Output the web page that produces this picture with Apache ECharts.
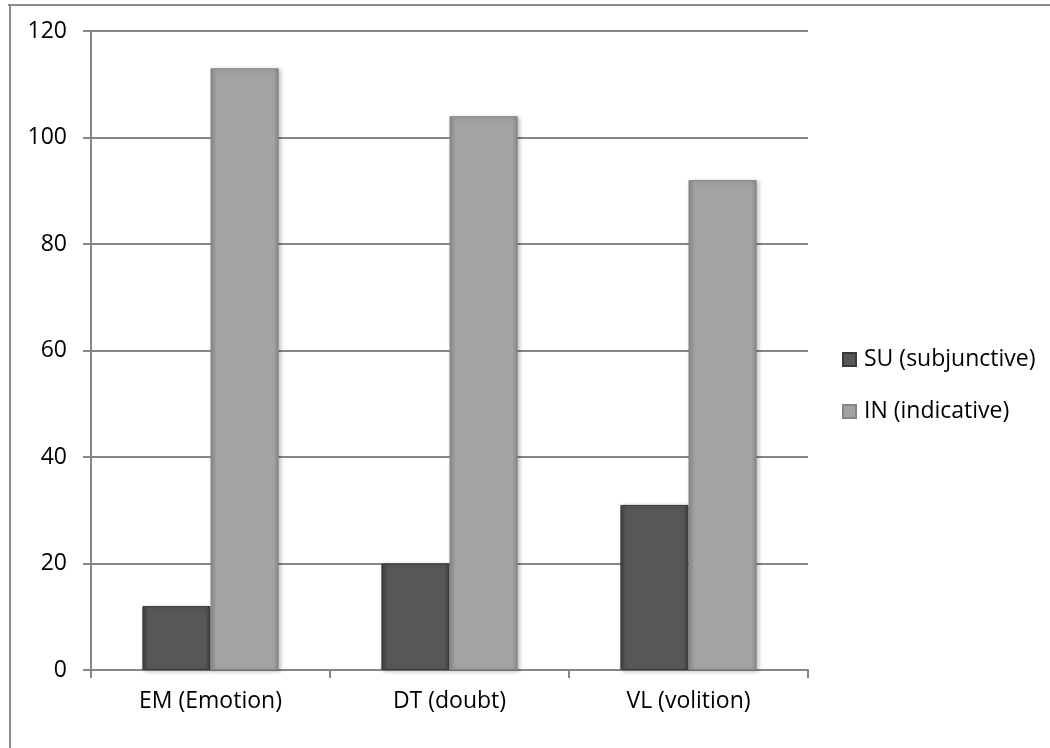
<!DOCTYPE html>
<html>
<head>
<meta charset="utf-8">
<script src="https://cdn.jsdelivr.net/npm/echarts@6/dist/echarts.min.js"></script>
<style>html,body{margin:0;padding:0;background:#fff}#c{width:1050px;height:748px}</style>
</head>
<body>
<div id="c"></div>
<script>
const categories = ['EM (Emotion)', 'DT (doubt)', 'VL (volition)'];
const suValues = [12, 20, 31];
const inValues = [113, 104, 92];
const seriesNames = ['SU (subjunctive)', 'IN (indicative)'];

const font = 'Open Sans';
function grad(edge, mid) {
  return new echarts.graphic.LinearGradient(0, 0, 1, 0, [
    {offset: 0, color: edge}, {offset: 0.08, color: mid},
    {offset: 0.92, color: mid}, {offset: 1, color: edge}
  ]);
}
const chart = echarts.init(document.getElementById('c'));
chart.setOption({
  animation: false,
  backgroundColor: '#fff',
  graphic: [
    {type: 'line', shape: {x1: 8, y1: 5, x2: 1050, y2: 5}, style: {stroke: '#8c8c8c', lineWidth: 2}},
    {type: 'line', shape: {x1: 10, y1: 5, x2: 10, y2: 748}, style: {stroke: '#8c8c8c', lineWidth: 2}}
  ],
  grid: {left: 91, right: 242, top: 31, bottom: 78, containLabel: false},
  legend: {
    orient: 'vertical', left: 837, top: 343, itemGap: 29,
    icon: 'rect', itemWidth: 13, itemHeight: 13,
    textStyle: {fontFamily: font, fontSize: 23, color: '#000', padding: [0, 0, 0, 3]},
    data: seriesNames
  },
  xAxis: {
    type: 'category', data: categories,
    axisLine: {lineStyle: {color: '#868686', width: 2}},
    axisTick: {show: true, length: 8, lineStyle: {color: '#868686', width: 2}},
    axisLabel: {fontFamily: font, fontSize: 23, color: '#000', margin: 20}
  },
  yAxis: {
    type: 'value', min: 0, max: 120, interval: 20,
    axisLine: {show: true, lineStyle: {color: '#868686', width: 2}},
    axisTick: {show: true, length: 8, lineStyle: {color: '#868686', width: 2}},
    splitLine: {lineStyle: {color: '#868686', width: 2}},
    axisLabel: {fontFamily: font, fontSize: 23, color: '#000', margin: 24}
  },
  series: [
    {
      name: seriesNames[0], type: 'bar', data: suValues,
      barGap: '0%', barCategoryGap: '43%',
      itemStyle: {color: grad('#3e3e3e', '#575757'), borderColor: '#3a3a3a', borderWidth: 1,
        shadowColor: 'rgba(0,0,0,0.25)', shadowBlur: 4, shadowOffsetX: 2, shadowOffsetY: 1}
    },
    {
      name: seriesNames[1], type: 'bar', data: inValues,
      itemStyle: {color: grad('#8a8a8a', '#a3a3a3'), borderColor: '#858585', borderWidth: 1,
        shadowColor: 'rgba(0,0,0,0.25)', shadowBlur: 4, shadowOffsetX: 2, shadowOffsetY: 1}
    }
  ]
});
</script>
</body>
</html>
